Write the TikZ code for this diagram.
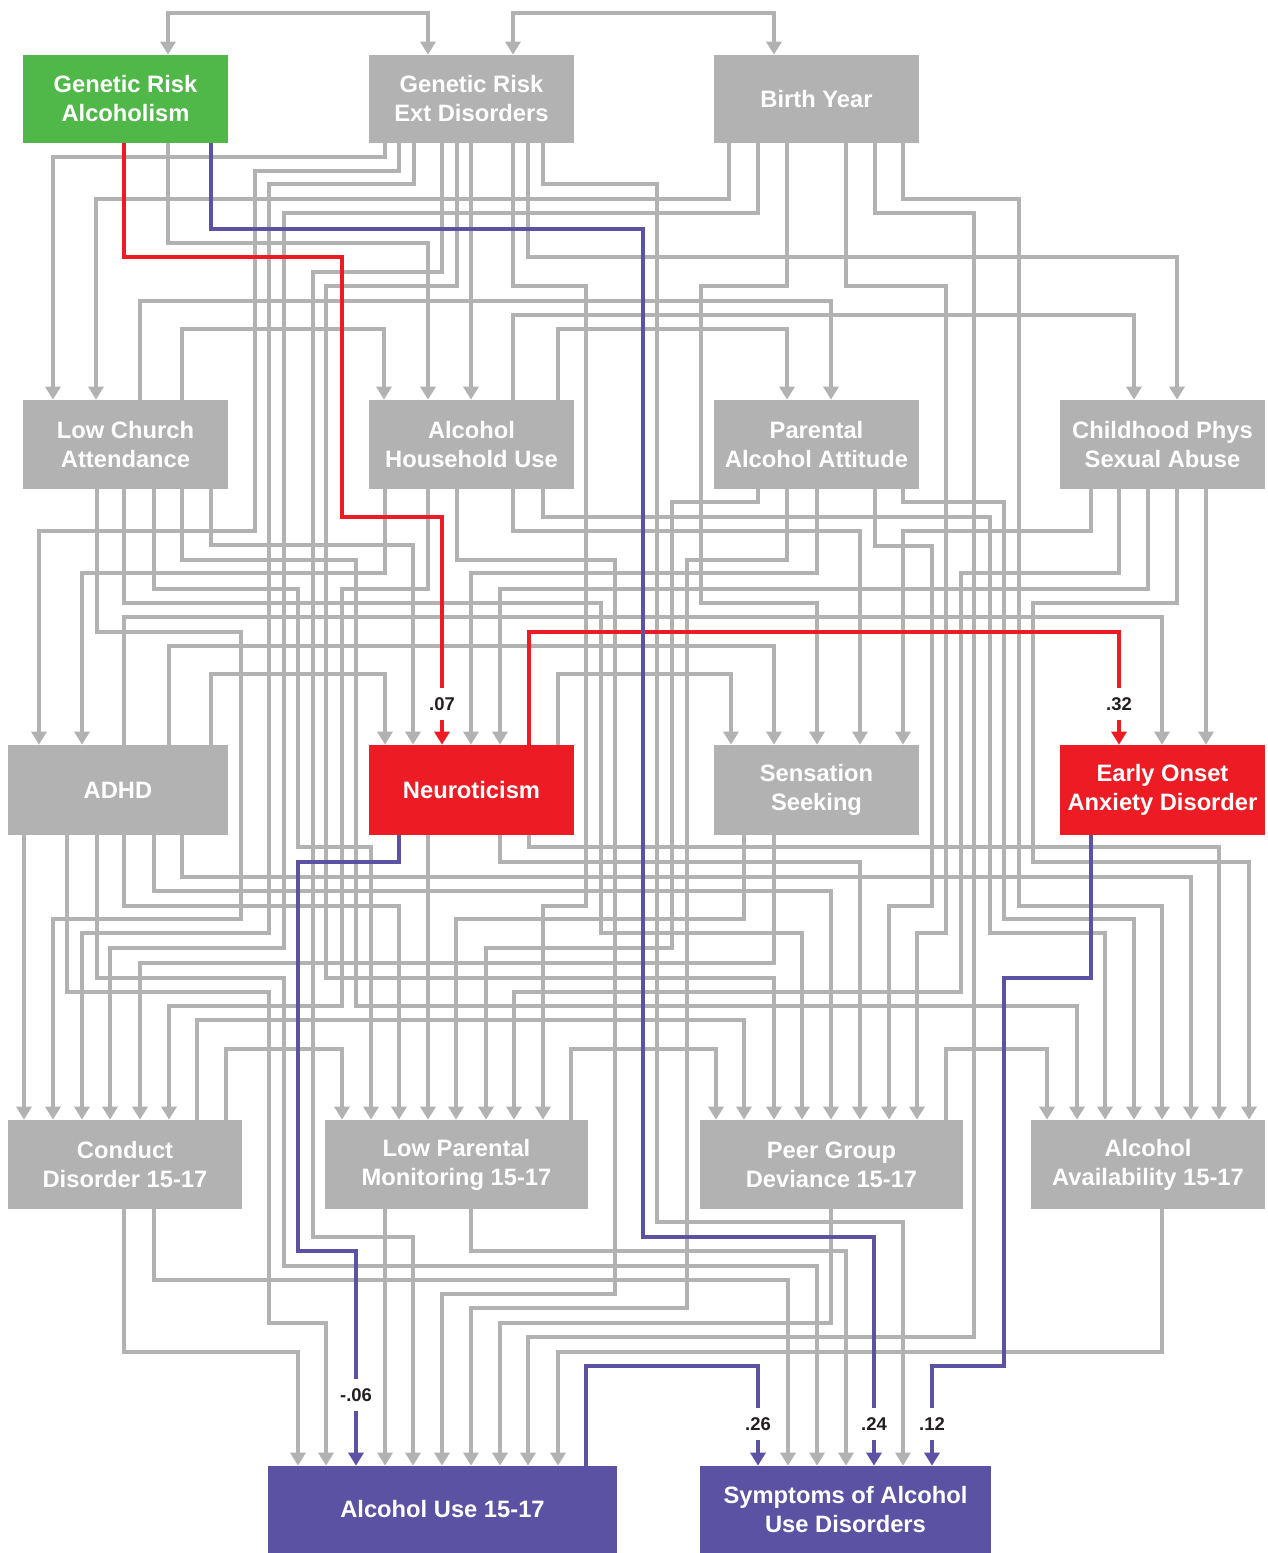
\documentclass[tikz,border=0pt]{standalone}
\usepackage{fontspec}
\setmainfont{Liberation Sans}
\usepackage{tikz}
\usetikzlibrary{arrows.meta}
\definecolor{lgray}{RGB}{178,178,178}
\definecolor{rgreen}{RGB}{80,184,72}
\definecolor{rred}{RGB}{237,28,36}
\definecolor{rblue}{RGB}{91,82,163}
\definecolor{rtext}{RGB}{35,31,32}

\begin{document}
\begin{tikzpicture}[x=0.02cm, y=-0.02cm, >={Triangle[width=0.3cm,length=0.26cm]},
  box/.style={rectangle, fill=lgray, text=white, inner sep=0pt, align=center,
    font=\bfseries\fontsize{13.5}{16.5}\selectfont},
  link/.style={draw=lgray, line width=1.8pt, ->},
  redlink/.style={link, draw=rred},
  bluelink/.style={link, draw=rblue},
  lbl/.style={fill=white, text=rtext, inner xsep=0pt, inner ysep=5.5pt,
    font=\bfseries\fontsize{10.5}{12}\selectfont}]
  \useasboundingbox (0,0) rectangle (1268,1553);

  \node[box, fill=rgreen, minimum width=4.1cm, minimum height=1.76cm] (gra) at (125.5,99) {Genetic Risk\\Alcoholism};
  \node[box, minimum width=4.1cm, minimum height=1.76cm] (gre) at (471.5,99) {Genetic Risk\\Ext Disorders};
  \node[box, minimum width=4.1cm, minimum height=1.76cm] (by) at (816.5,99) {Birth Year};
  \node[box, minimum width=4.1cm, minimum height=1.78cm] (lca) at (125.5,444.5) {Low Church\\Attendance};
  \node[box, minimum width=4.1cm, minimum height=1.78cm] (ahu) at (471.5,444.5) {Alcohol\\Household Use};
  \node[box, minimum width=4.1cm, minimum height=1.78cm] (paa) at (816.5,444.5) {Parental\\Alcohol Attitude};
  \node[box, minimum width=4.1cm, minimum height=1.78cm] (cpsa) at (1162.5,444.5) {Childhood Phys\\Sexual Abuse};
  \node[box, minimum width=4.4cm, minimum height=1.8cm] (adhd) at (118,790) {ADHD};
  \node[box, fill=rred, minimum width=4.1cm, minimum height=1.8cm] (neu) at (471.5,790) {Neuroticism};
  \node[box, minimum width=4.1cm, minimum height=1.8cm] (ss) at (816.5,790) {Sensation\\Seeking};
  \node[box, fill=rred, minimum width=4.1cm, minimum height=1.8cm] (eoad) at (1162.5,790) {Early Onset\\Anxiety Disorder};
  \node[box, minimum width=4.68cm, minimum height=1.78cm] (cd) at (125,1164.5) {Conduct\\Disorder 15-17};
  \node[box, minimum width=5.26cm, minimum height=1.78cm] (lpm) at (456.5,1164.5) {Low Parental\\Monitoring 15-17};
  \node[box, minimum width=5.26cm, minimum height=1.78cm] (pgd) at (831.5,1164.5) {Peer Group\\Deviance 15-17};
  \node[box, minimum width=4.68cm, minimum height=1.78cm] (aa) at (1148,1164.5) {Alcohol\\Availability 15-17};
  \node[box, fill=rblue, minimum width=6.98cm, minimum height=1.74cm] (au) at (442.5,1509.5) {Alcohol Use 15-17};
  \node[box, fill=rblue, minimum width=5.82cm, minimum height=1.74cm] (sym) at (845.5,1509.5) {Symptoms of Alcohol\\Use Disorders};

  \draw[link, <->] (gra.north -| 168,0) |- (428,13) -- (gre.north -| 428,0);
  \draw[link, <->] (gre.north -| 513,0) |- (774,13) -- (by.north -| 774,0);

  \draw[link] (gra.south -| 168,0) |- (428,243) -- (ahu.north -| 428,0);
  \draw[link] (gre.south -| 385,0) |- (53,157) -- (lca.north -| 53,0);
  \draw[link] (gre.south -| 399,0) |- (255,171) |- (39,531) -- (adhd.north -| 39,0);
  \draw[link] (gre.south -| 414,0) |- (269,184) |- (82,933) -- (cd.north -| 82,0);
  \draw[link] (gre.south -| 442,0) |- (313,272) |- (413,1237) -- (au.north -| 413,0);
  \draw[link] (gre.south -| 457,0) |- (326,286) |- (774,978) -- (pgd.north -| 774,0);
  \draw[link] (gre.south -| 471,0) -- (ahu.north -| 471,0);
  \draw[link] (gre.south -| 513,0) |- (586,286) |- (543,906) -- (lpm.north -| 543,0);
  \draw[link] (gre.south -| 528,0) |- (1177,257) -- (cpsa.north -| 1177,0);
  \draw[link] (gre.south -| 543,0) |- (657,184) |- (903,1222) -- (sym.north -| 903,0);

  \draw[link] (by.south -| 729,0) |- (96,199) -- (lca.north -| 96,0);
  \draw[link] (by.south -| 758,0) |- (284,213) |- (110,948) -- (cd.north -| 110,0);
  \draw[link] (by.south -| 787,0) |- (701,286) |- (817,603) -- (ss.north -| 817,0);
  \draw[link] (by.south -| 846,0) |- (946,286) |- (917,933) -- (pgd.north -| 917,0);
  \draw[link] (by.south -| 875,0) |- (974,213) |- (528,1337) -- (au.north -| 528,0);
  \draw[link] (by.south -| 903,0) |- (1019,199) |- (1162,906) -- (aa.north -| 1162,0);

  \draw[link] (lca.north -| 140,0) |- (831,301) -- (paa.north -| 831,0);
  \draw[link] (lca.north -| 182,0) |- (384,329) -- (ahu.north -| 384,0);
  \draw[link] (ahu.north -| 513,0) |- (1134,315) -- (cpsa.north -| 1134,0);
  \draw[link] (ahu.north -| 558,0) |- (787,329) -- (paa.north -| 787,0);

  \draw[link] (lca.south -| 97,0) |- (241,632) |- (53,919) -- (cd.north -| 53,0);
  \draw[link] (lca.south -| 124,0) |- (601,603) |- (802,933) -- (pgd.north -| 802,0);
  \draw[link] (lca.south -| 154,0) |- (298,589) |- (371,847) -- (lpm.north -| 371,0);
  \draw[link] (lca.south -| 182,0) |- (356,560) |- (1077,1006) -- (aa.north -| 1077,0);
  \draw[link] (lca.south -| 211,0) |- (413,545) -- (neu.north -| 413,0);

  \draw[link] (ahu.south -| 385,0) |- (82,573) -- (adhd.north -| 82,0);
  \draw[link] (ahu.south -| 428,0) |- (342,589) |- (169,1006) -- (cd.north -| 169,0);
  \draw[link] (ahu.south -| 457,0) |- (615,560) |- (442,1294) -- (au.north -| 442,0);
  \draw[link] (ahu.south -| 513,0) |- (860,531) -- (ss.north -| 860,0);
  \draw[link] (ahu.south -| 543,0) |- (990,517) |- (1105,933) -- (aa.north -| 1105,0);

  \draw[link] (paa.south -| 758,0) |- (672,502) |- (486,948) -- (lpm.north -| 486,0);
  \draw[link] (paa.south -| 787,0) |- (687,560) |- (471,1308) -- (au.north -| 471,0);
  \draw[link] (paa.south -| 817,0) |- (471,573) -- (neu.north -| 471,0);
  \draw[link] (paa.south -| 875,0) |- (932,546) |- (889,906) -- (pgd.north -| 889,0);
  \draw[link] (paa.south -| 903,0) |- (1004,502) |- (1134,919) -- (aa.north -| 1134,0);

  \draw[link] (cpsa.south -| 1091,0) |- (903,531) -- (ss.north -| 903,0);
  \draw[link] (cpsa.south -| 1119,0) |- (961,573) |- (514,992) -- (lpm.north -| 514,0);
  \draw[link] (cpsa.south -| 1148,0) |- (500,589) -- (neu.north -| 500,0);
  \draw[link] (cpsa.south -| 1177,0) |- (1033,603) |- (1249,862) -- (aa.north -| 1249,0);
  \draw[link] (cpsa.south -| 1206,0) -- (eoad.north -| 1206,0);

  \draw[link] (adhd.north -| 124,0) |- (1162,617) -- (eoad.north -| 1162,0);
  \draw[link] (adhd.north -| 169,0) |- (774,646) -- (ss.north -| 774,0);
  \draw[link] (adhd.north -| 211,0) |- (385,674) -- (neu.north -| 385,0);
  \draw[link] (neu.north -| 558,0) |- (731,674) -- (ss.north -| 731,0);

  \draw[link] (adhd.south -| 24,0) -- (cd.north -| 24,0);
  \draw[link] (adhd.south -| 67,0) |- (269,992) |- (326,1323) -- (au.north -| 326,0);
  \draw[link] (adhd.south -| 97,0) |- (284,978) |- (817,1266) -- (sym.north -| 817,0);
  \draw[link] (adhd.south -| 124,0) |- (399,906) -- (lpm.north -| 399,0);
  \draw[link] (adhd.south -| 154,0) |- (831,891) -- (pgd.north -| 831,0);
  \draw[link] (adhd.south -| 182,0) |- (1191,877) -- (aa.north -| 1191,0);

  \draw[link] (neu.south -| 428,0) -- (lpm.north -| 428,0);
  \draw[link] (neu.south -| 500,0) |- (860,862) -- (pgd.north -| 860,0);
  \draw[link] (neu.south -| 529,0) |- (1219,847) -- (aa.north -| 1219,0);
  \draw[link] (ss.south -| 744,0) |- (456,919) -- (lpm.north -| 456,0);
  \draw[link] (ss.south -| 774,0) |- (140,963) -- (cd.north -| 140,0);

  \draw[link] (cd.north -| 197,0) |- (744,1020) -- (pgd.north -| 744,0);
  \draw[link] (cd.north -| 226,0) |- (342,1049) -- (lpm.north -| 342,0);
  \draw[link] (lpm.north -| 571,0) |- (716,1049) -- (pgd.north -| 716,0);
  \draw[link] (pgd.north -| 946,0) |- (1047,1049) -- (aa.north -| 1047,0);

  \draw[link] (cd.south -| 124,0) |- (298,1352) -- (au.north -| 298,0);
  \draw[link] (cd.south -| 154,0) |- (788,1280) -- (sym.north -| 788,0);
  \draw[link] (lpm.south -| 385,0) -- (au.north -| 385,0);
  \draw[link] (lpm.south -| 471,0) |- (846,1251) -- (sym.north -| 846,0);
  \draw[link] (pgd.south -| 831,0) |- (500,1323) -- (au.north -| 500,0);
  \draw[link] (aa.south -| 1162,0) |- (558,1352) -- (au.north -| 558,0);

  \draw[redlink] (gra.south -| 124,0) |- (342,257) |- (442,517) -- (neu.north -| 442,0);
  \draw[redlink] (neu.north -| 529,0) |- (1119,632) -- (eoad.north -| 1119,0);
  \draw[bluelink] (gra.south -| 211,0) |- (643,229) |- (874,1237) -- (sym.north -| 874,0);
  \draw[bluelink] (neu.south -| 399,0) |- (298,862) |- (356,1251) -- (au.north -| 356,0);
  \draw[bluelink] (eoad.south -| 1091,0) |- (1004,978) |- (932,1366) -- (sym.north -| 932,0);
  \draw[bluelink] (au.north -| 586,0) |- (758,1366) -- (sym.north -| 758,0);

  \node[lbl] (w07) at (442,704) {.07};
  \node[lbl] (w32) at (1119,704) {.32};
  \node[lbl] (w06) at (356,1395) {-.06};
  \node[lbl] (w26) at (758,1424) {.26};
  \node[lbl] (w24) at (874,1424) {.24};
  \node[lbl] (w12) at (932,1424) {.12};
\end{tikzpicture}
\end{document}
